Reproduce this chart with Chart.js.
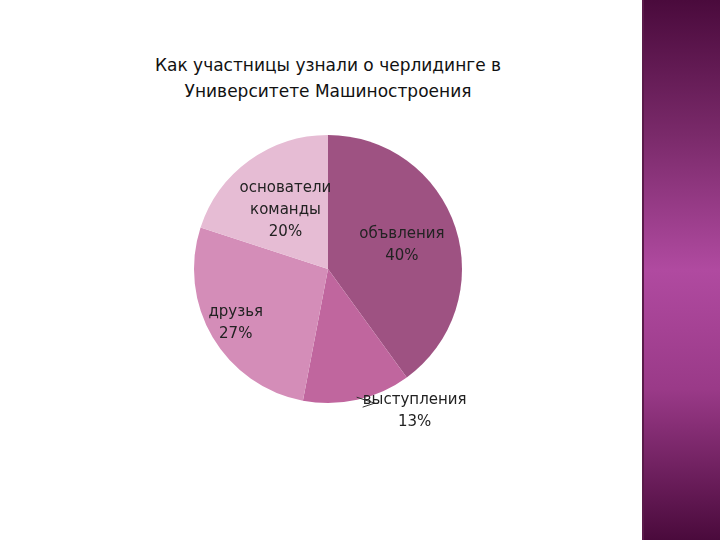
<!DOCTYPE html>
<html><head><meta charset="utf-8">
<script src="https://cdn.jsdelivr.net/npm/chart.js@4"></script>
<style>
  body { margin:0; width:720px; height:540px; background:#fff; position:relative; overflow:hidden; font-family:"DejaVu Sans",sans-serif; }
  #band { position:absolute; left:642px; top:0; width:78px; height:540px;
    background:linear-gradient(#4a0a3c 0%, #7a2a6a 25%, #b04aa0 50%, #9a3a88 72%, #4a0a3c 100%);
    border-left:2px solid #5a1a4a; }
  #title { position:absolute; left:0; width:656px; top:52px; text-align:center; font-size:17px; line-height:26px; color:#111; }
  #wrap { position:absolute; left:0; top:0; width:640px; height:540px; }
</style></head>
<body>
<div id="band"></div>
<div id="title">Как участницы узнали о черлидинге в<br>Университете Машиностроения</div>
<div id="wrap"><canvas id="pie"></canvas></div>
<script>
const labels = ['объвления', 'выступления', 'друзья', 'основатели команды'];
const values = [40, 13, 27, 20];
const colors = ['#9e5282', '#c0669e', '#d48db8', '#e6bcd4'];

// label text lines, distance factor from centre
const labelLines = [['объвления', '40%'], ['выступления', '13%'], ['друзья', '27%'], ['основатели', 'команды', '20%']];
const labelDist = [0.58, 1.0, 0.8, 0.54];

const pieLabels = {
  id: 'pieLabels',
  afterDatasetsDraw(chart) {
    const ctx = chart.ctx;
    const meta = chart.getDatasetMeta(0);
    ctx.save();
    ctx.font = '15px "DejaVu Sans", sans-serif';
    ctx.fillStyle = '#222';
    ctx.textAlign = 'center';
    ctx.textBaseline = 'middle';
    meta.data.forEach((arc, i) => {
      const p = arc.getProps(['x', 'y', 'startAngle', 'endAngle', 'outerRadius']);
      const mid = (p.startAngle + p.endAngle) / 2;
      let lx, ly;
      if (i === 1) {
        // callout with leader line
        const ex = p.x + Math.cos(mid) * p.outerRadius * 0.98;
        const ey = p.y + Math.sin(mid) * p.outerRadius * 0.98;
        lx = ex + 58; ly = ey + 14;
        ctx.strokeStyle = '#333'; ctx.lineWidth = 1;
        ctx.beginPath(); ctx.moveTo(ex, ey); ctx.lineTo(ex + 18, ey + 6); ctx.lineTo(lx - 52, ly - 4); ctx.stroke();
      } else {
        const r = p.outerRadius * labelDist[i];
        lx = p.x + Math.cos(mid) * r;
        ly = p.y + Math.sin(mid) * r;
      }
      const lines = labelLines[i];
      const h = 22;
      lines.forEach((t, k) => ctx.fillText(t, lx, ly + (k - (lines.length - 1) / 2) * h));
    });
    ctx.restore();
  }
};

new Chart(document.getElementById('pie'), {
  type: 'pie',
  data: { labels, datasets: [{ data: values, backgroundColor: colors, borderWidth: 0 }] },
  options: {
    responsive: true, maintainAspectRatio: false, animation: false,
    layout: { padding: { left: 194, right: 178, top: 135, bottom: 137 } },
    plugins: { legend: { display: false }, tooltip: { enabled: false } }
  },
  plugins: [pieLabels]
});
</script>
</body></html>
